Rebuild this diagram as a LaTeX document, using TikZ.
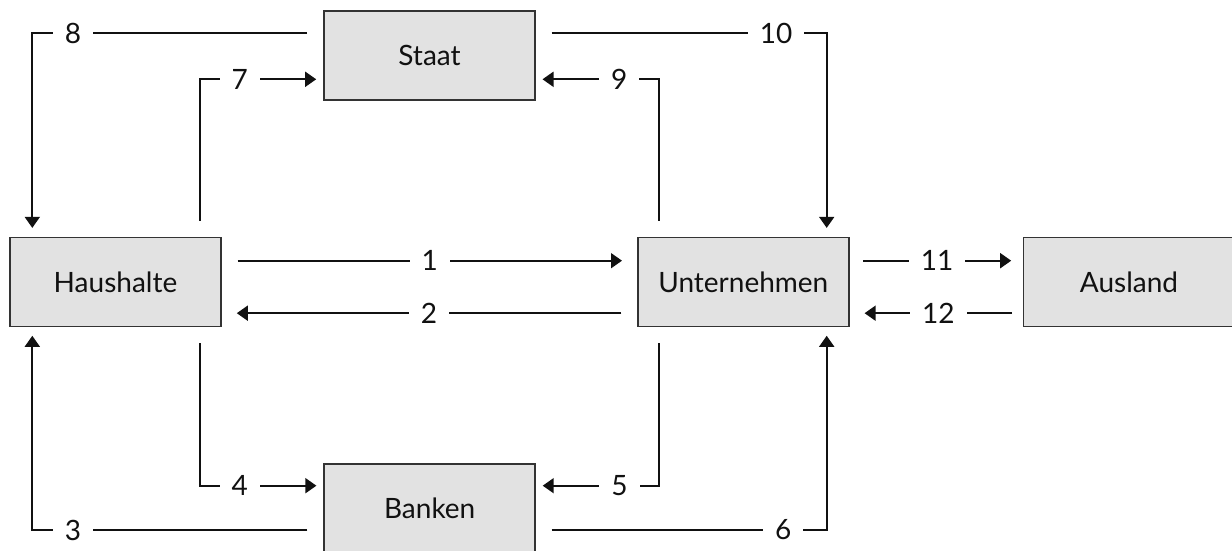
\documentclass[tikz,border=0pt]{standalone}
\usepackage{fontspec}
\setmainfont{Lato}
\usetikzlibrary{arrows.meta,calc}
\definecolor{boxfill}{HTML}{E2E2E2}
\definecolor{ink}{HTML}{111111}
\definecolor{edge}{HTML}{333333}
\begin{document}
\begin{tikzpicture}[x=1pt,y=1pt,
  box/.style={draw=edge,line width=1.6pt,fill=boxfill,minimum width=211pt,minimum height=89pt,inner sep=0pt,font=\fontsize{28}{32}\selectfont,text=ink},
  conn/.style={draw=ink,line width=1.7pt},
  arr/.style={conn,-{Triangle[length=11pt,width=15pt]}},
  num/.style={fill=white,inner xsep=12pt,inner ysep=2pt,font=\fontsize{28}{32}\selectfont,text=ink}]
\useasboundingbox (0,0) rectangle (1232,551);
\clip (0,0) rectangle (1232,551);
% boxes
\node[box] (haus)  at (115.5,268.8) {Haushalte};
\node[box] (staat) at (429.5,495.5) {Staat};
\node[box] (unter) at (743.3,268.8) {Unternehmen};
\node[box] (ausl)  at (1129,268.8) {Ausland};
\node[box] (bank)  at (429.7,42.2) {Banken};
% 1 and 2
\draw[arr] ([xshift=15.7pt,yshift=21.5pt]haus.east) -- node[num]{1} ([xshift=-15pt,yshift=21.5pt]unter.west);
\draw[arr] ([xshift=-15.6pt,yshift=-31pt]unter.west) -- node[num]{2} ([xshift=15pt,yshift=-31pt]haus.east);
% 11 and 12
\draw[arr] ([xshift=13.4pt,yshift=21.5pt]unter.east) -- node[num]{11} ([xshift=-11.5pt,yshift=21.5pt]ausl.west);
\draw[arr] ([xshift=-10.5pt,yshift=-31pt]ausl.west) -- node[num]{12} ([xshift=15pt,yshift=-31pt]unter.east);
% 8
\draw[arr] ([xshift=-16pt,yshift=22.2pt]staat.west) -| node[num,pos=0.426]{8} ([xshift=-83.2pt,yshift=9pt]haus.north);
% 7
\draw[arr] ([xshift=84.5pt,yshift=16pt]haus.north) |- node[num,pos=0.671]{7} ([xshift=-7pt,yshift=-23.8pt]staat.west);
% 9
\draw[arr] ([xshift=-84pt,yshift=16pt]unter.north) |- node[num,pos=0.671]{9} ([xshift=6.7pt,yshift=-23.8pt]staat.east);
% 10
\draw[arr] ([xshift=15.7pt,yshift=22.2pt]staat.east) -| node[num,pos=0.408]{10} ([xshift=83.4pt,yshift=9pt]unter.north);
% 3
\draw[arr] ([xshift=-16pt,yshift=-21.2pt]bank.west) -| node[num,pos=0.426]{3} ([xshift=-83.2pt,yshift=-8.3pt]haus.south);
% 4
\draw[arr] ([xshift=84.5pt,yshift=-16pt]haus.south) |- node[num,pos=0.671]{4} ([xshift=-7pt,yshift=23.1pt]bank.west);
% 5
\draw[arr] ([xshift=-84pt,yshift=-16pt]unter.south) |- node[num,pos=0.671]{5} ([xshift=6.7pt,yshift=23.1pt]bank.east);
% 6
\draw[arr] ([xshift=15.5pt,yshift=-21.2pt]bank.east) -| node[num,pos=0.421]{6} ([xshift=83.4pt,yshift=-8.3pt]unter.south);
\end{tikzpicture}
\end{document}
